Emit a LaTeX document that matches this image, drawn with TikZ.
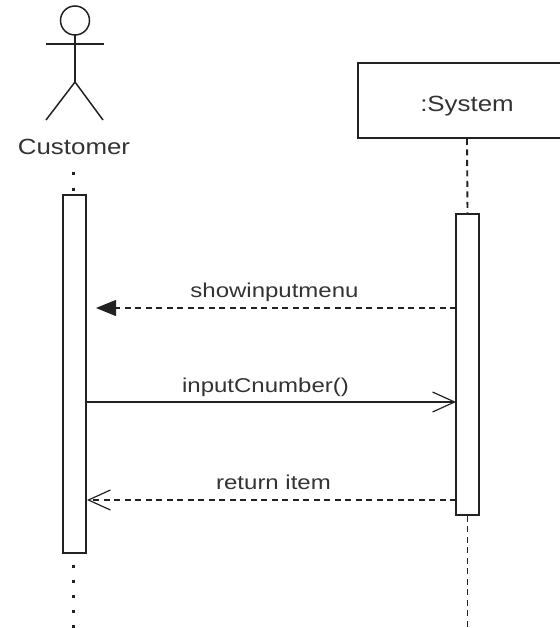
\documentclass[tikz,border=0pt]{standalone}
\usepackage{xcolor}
\usepackage{fontspec}
\setmainfont{Liberation Sans}
\usetikzlibrary{arrows.meta}
\definecolor{inkline}{HTML}{222222}
\definecolor{inktext}{HTML}{333333}
\tikzset{
	lifebox/.style={draw=inkline,line width=1.6pt,fill=white,minimum width=23pt,inner sep=0pt},
	label/.style={text=inktext,font=\fontsize{20}{24}\selectfont,xscale=1.2,inner sep=0pt},
	biglabel/.style={label,font=\fontsize{22}{26}\selectfont,xscale=0.98},
	msgdash/.style={draw=inkline,line width=1.2pt,dash pattern=on 6pt off 4.5pt},
	msgsolid/.style={draw=inkline,line width=1.4pt},
	lifeline/.style={draw=inkline,line width=1.9pt,dash pattern=on 6pt off 4.5pt},
	dots/.style={draw=inkline,line width=3pt,dash pattern=on 3pt off 12.2pt}
}
\begin{document}
\begin{tikzpicture}[x=1pt,y=-1pt]
\useasboundingbox (0,0) rectangle (559,628);
% actor
\draw[inkline,line width=1.5pt] (75,20.5) circle (14.5pt);
\draw[inkline,line width=1.5pt] (75,35) -- (75,82);
\draw[inkline,line width=1.5pt] (46,44) -- (104,44);
\draw[inkline,line width=1.5pt] (46,120) -- (75,82) -- (103,120);
\node[biglabel] (customer) at (74,147) {Customer};
% left bar
\coordinate (custtop) at (73.5,172.5);
\coordinate (custend) at (73.5,628);
\node[lifebox,minimum height=358pt] (custbar) at (74.5,374) {};
\draw[dots] (custtop) -- (custbar.north -| custtop);
\draw[dots] (73.5,564.5) -- (custend);
% right side
\node[draw=inkline,line width=1.6pt,fill=white,minimum width=218pt,minimum height=75pt,inner sep=0pt] (system) at (467,100.5) {};
\node[biglabel] (systemlabel) at (467,106) {:System};
\node[lifebox,minimum height=301pt] (sysbar) at (467.5,364.5) {};
\coordinate (sysend) at (467.5,628);
\draw[lifeline] (system.south) -- (sysbar.north);
\draw[lifeline] (sysbar.south) -- (sysend);
% messages
\coordinate (showfrom) at (456,308);
\coordinate (showto) at (96,308);
\coordinate (inputfrom) at (86,402);
\coordinate (inputto) at (456,402);
\coordinate (returnfrom) at (456,500);
\coordinate (returnto) at (87,500);
\draw[msgdash,-{Triangle[length=20pt,width=16pt,sep=0pt]}] (showfrom) -- (showto);
\draw[msgsolid,-{Straight Barb[length=22pt,width=20pt,line width=1.2pt]}] (inputfrom) -- (inputto);
\draw[msgdash,-{Straight Barb[length=22pt,width=20pt,line width=1.2pt]}] (returnfrom) -- (returnto);
\node[label] (showlabel) at (274.5,292) {showinputmenu};
\node[label] (inputlabel) at (265.5,387) {inputCnumber()};
\node[label] (returnlabel) at (273.5,482) {return item};
\end{tikzpicture}
\end{document}
